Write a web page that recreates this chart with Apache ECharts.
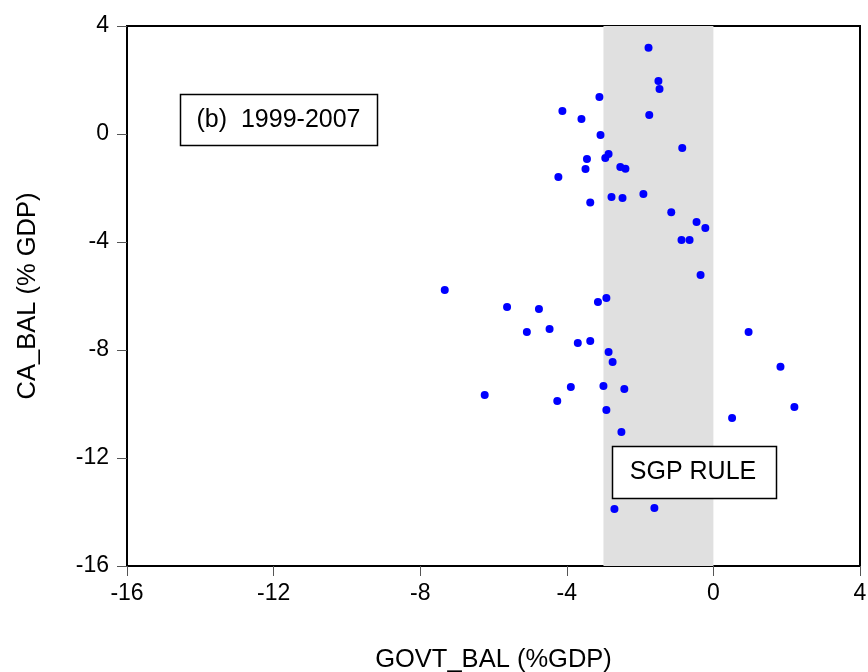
<!DOCTYPE html>
<html>
<head>
<meta charset="utf-8">
<script src="https://cdn.jsdelivr.net/npm/echarts@6/dist/echarts.min.js"></script>
<style>
html,body{margin:0;padding:0;background:#fff;}
#main{width:868px;height:672px;}
</style>
</head>
<body>
<div id="main"></div>
<script>
var govtBal = [-1.77,-1.50,-1.47,-3.11,-4.12,-3.60,-1.75,-3.08,-0.85,-2.86,
  -2.95,-3.45,-3.49,-2.54,-2.40,-4.23,-1.91,-2.78,-2.48,-3.36,
  -1.15,-0.46,-0.22,-0.87,-0.65,-0.35,-7.33,-5.63,-4.76,-3.15,
  -2.92,-5.09,-4.47,-3.70,-3.36,-2.86,-2.75,-6.24,-3.89,-3.00,
  -2.43,-4.26,-2.92,0.96,1.83,2.21,0.51,-2.51,-2.70,-1.61];
var caBal = [3.19,1.96,1.67,1.37,0.85,0.56,0.70,-0.04,-0.52,-0.74,
  -0.89,-0.93,-1.30,-1.22,-1.29,-1.59,-2.22,-2.33,-2.37,-2.54,
  -2.90,-3.26,-3.48,-3.93,-3.93,-5.22,-5.78,-6.41,-6.48,-6.22,
  -6.07,-7.33,-7.22,-7.74,-7.67,-8.07,-8.44,-9.67,-9.37,-9.33,
  -9.44,-9.89,-10.22,-7.33,-8.62,-10.11,-10.52,-11.04,-13.89,-13.85];
var sgpBand = [-3, 0];
var xTitle = 'GOVT_BAL (%GDP)';
var yTitle = 'CA_BAL (% GDP)';
var periodLabel = '(b)  1999-2007';
var ruleLabel = 'SGP RULE';

var pts = govtBal.map(function(x, i){ return [x, caBal[i]]; });
var FONT = 'Liberation Sans, Arial, sans-serif';

var chart = echarts.init(document.getElementById('main'), null, {renderer:'canvas'});
var axisCommon = {
  axisLine:{show:true, onZero:false, lineStyle:{color:'#000', width:2}},
  axisTick:{show:true, inside:false, length:10, lineStyle:{color:'#555', width:1}},
  splitLine:{show:false},
  axisLabel:{color:'#000', fontSize:23, fontFamily:FONT}
};
chart.setOption({
  animation:false,
  backgroundColor:'#fff',
  grid:{left:127, right:8, top:26, bottom:106, containLabel:false, outerBoundsMode:'none',
        show:true, borderColor:'#000', borderWidth:2, backgroundColor:'transparent'},
  xAxis: Object.assign({}, axisCommon, {
    type:'value', min:-16, max:4, interval:4,
    name:xTitle, nameLocation:'middle', nameGap:81,
    nameTextStyle:{color:'#000', fontSize:25.5, fontFamily:FONT},
    axisLabel:Object.assign({}, axisCommon.axisLabel, {margin:16})
  }),
  yAxis: Object.assign({}, axisCommon, {
    type:'value', min:-16, max:4, interval:4,
    name:yTitle, nameLocation:'middle', nameGap:86,
    nameTextStyle:{color:'#000', fontSize:25.5, fontFamily:FONT},
    axisLabel:Object.assign({}, axisCommon.axisLabel, {margin:18})
  }),
  series:[{
    type:'scatter',
    data:pts,
    symbol:'circle',
    symbolSize:8,
    itemStyle:{color:'#0000ff', opacity:1},
    z:5,
    markArea:{
      silent:true,
      itemStyle:{color:'#e0e0e0'},
      data:[[{xAxis:sgpBand[0], yAxis:-16},{xAxis:sgpBand[1], yAxis:4}]],
      z:1
    }
  }],
  graphic:[
    {type:'rect', shape:{x:180.5, y:94.5, width:197, height:51}, style:{fill:'#fff', stroke:'#000', lineWidth:1.5}, z:10},
    {type:'text', x:278.5, y:120, style:{text:periodLabel, font:'25px '+FONT, fill:'#000', align:'center', verticalAlign:'middle'}, z:11},
    {type:'rect', shape:{x:612.5, y:446.5, width:164, height:52}, style:{fill:'#fff', stroke:'#000', lineWidth:1.5}, z:10},
    {type:'text', x:693, y:472, style:{text:ruleLabel, font:'25px '+FONT, fill:'#000', align:'center', verticalAlign:'middle'}, z:11}
  ]
});
</script>
</body>
</html>
